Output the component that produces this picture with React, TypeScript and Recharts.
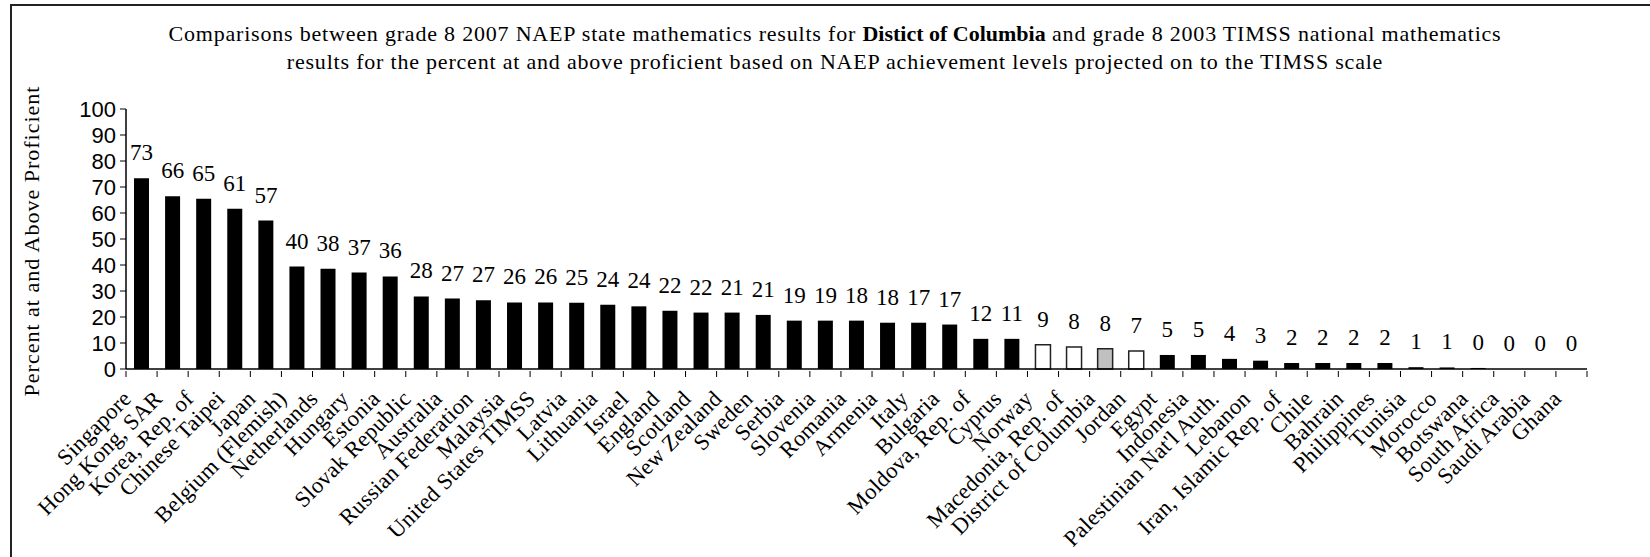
import { ComposedChart, Bar, Line, XAxis, YAxis, Cell, LabelList } from "recharts";

const categories = [
  "Singapore", "Hong Kong, SAR", "Korea, Rep. of", "Chinese Taipei", "Japan",
  "Belgium (Flemish)", "Netherlands", "Hungary", "Estonia", "Slovak Republic",
  "Australia", "Russian Federation", "Malaysia", "United States TIMSS", "Latvia",
  "Lithuania", "Israel", "England", "Scotland", "New Zealand", "Sweden", "Serbia",
  "Slovenia", "Romania", "Armenia", "Italy", "Bulgaria", "Moldova, Rep. of",
  "Cyprus", "Norway", "Macedonia, Rep. of", "District of Columbia", "Jordan",
  "Egypt", "Indonesia", "Palestinian Nat'l Auth.", "Lebanon",
  "Iran, Islamic Rep. of", "Chile", "Bahrain", "Philippines", "Tunisia",
  "Morocco", "Botswana", "South Africa", "Saudi Arabia", "Ghana",
];

// bar heights
const percentBars = [
  73.4, 66.4, 65.5, 61.6, 57.1, 39.4, 38.6, 37.1, 35.6, 27.9, 27.1, 26.4, 25.6,
  25.6, 25.5, 24.7, 24.1, 22.4, 21.7, 21.7, 20.8, 18.6, 18.6, 18.6, 17.8, 17.8,
  17.1, 11.6, 11.6, 9.3, 8.5, 7.8, 6.9, 5.4, 5.4, 3.9, 3.2, 2.3, 2.3, 2.3, 2.3,
  0.7, 0.6, 0.4, 0, 0, 0,
];

// printed labels above the bars
const percentLabels = [
  73, 66, 65, 61, 57, 40, 38, 37, 36, 28, 27, 27, 26, 26, 25, 24, 24, 22, 22,
  21, 21, 19, 19, 18, 18, 17, 17, 12, 11, 9, 8, 8, 7, 5, 5, 4, 3, 2, 2, 2, 2,
  1, 1, 0, 0, 0, 0,
];

const yTicks = [0, 10, 20, 30, 40, 50, 60, 70, 80, 90, 100];

// not significantly different from the focus jurisdiction
const notDifferent = ["Norway", "Macedonia, Rep. of", "Jordan"];
const focusState = "District of Columbia";

const data = categories.map((name, i) => ({
  name,
  value: percentBars[i],
  label: percentLabels[i],
}));

const SERIF = '"Liberation Serif", "Times New Roman", serif';
const SANS = '"Liberation Sans", Arial, sans-serif';

const W = 1650;
const H = 557;
const PLOT_LEFT = 126;
const PLOT_RIGHT = 1587;
const STEP = (PLOT_RIGHT - PLOT_LEFT) / categories.length;

function CategoryTick(props: any) {
  const { x, y, payload, index } = props;
  const tx = x - 9;
  const ty = y + 29;
  const last = index === categories.length - 1;
  return (
    <g>
      <line x1={x - STEP / 2} x2={x - STEP / 2} y1={y} y2={y + 6} stroke="#000" />
      {last && (
        <line x1={x + STEP / 2} x2={x + STEP / 2} y1={y} y2={y + 6} stroke="#000" />
      )}
      <text
        x={tx}
        y={ty}
        textAnchor="end"
        transform={`rotate(-45 ${tx} ${ty})`}
        fontFamily={SERIF}
        fontSize={22.5}
        letterSpacing={0.3}
        fill="#000"
      >
        {payload.value}
      </text>
    </g>
  );
}

function YTitle(props: any) {
  const { viewBox } = props;
  const cy = viewBox.y + viewBox.height / 2 + 2;
  return (
    <text
      x={31}
      y={cy}
      textAnchor="middle"
      dominantBaseline="central"
      transform={`rotate(-90 31 ${cy})`}
      fontFamily={SERIF}
      fontSize={22}
      letterSpacing={1}
      fill="#000"
    >
      Percent at and Above Proficient
    </text>
  );
}

export default function App() {
  return (
    <div
      style={{
        position: "fixed",
        left: 0,
        top: 0,
        width: W,
        height: H,
        overflow: "hidden",
        background: "#fff",
      }}
    >
      <div
        style={{
          position: "absolute",
          left: 10,
          top: 4,
          width: 1700,
          height: 600,
          border: "2px solid #222",
        }}
      />
      <div
        style={{
          position: "absolute",
          left: 10,
          top: 20,
          width: W,
          textAlign: "center",
          fontFamily: SERIF,
          fontSize: 22,
          letterSpacing: 0.8,
          lineHeight: "28px",
          color: "#000",
        }}
      >
        Comparisons between grade 8 2007 NAEP state mathematics results for{" "}
        <b style={{ letterSpacing: 0 }}>Distict of Columbia</b> and grade 8 2003
        TIMSS national mathematics
        <br />
        results for the percent at and above proficient based on NAEP
        achievement levels projected on to the TIMSS scale
      </div>
      <div style={{ position: "absolute", left: 0, top: 0 }}>
        <ComposedChart
          width={W}
          height={H}
          data={data}
          margin={{ top: 109, right: W - PLOT_RIGHT, bottom: 0, left: 0 }}
          barSize={15}
        >
          <XAxis
            dataKey="name"
            interval={0}
            height={188}
            tickSize={0}
            tickLine={false}
            axisLine={{ stroke: "#000", strokeWidth: 1.5 }}
            tick={<CategoryTick />}
          />
          <XAxis
            xAxisId="frame"
            dataKey="name"
            orientation="top"
            height={0}
            tick={false}
            tickLine={false}
            axisLine={{ stroke: "#666" }}
          />
          <YAxis
            width={PLOT_LEFT}
            domain={[0, 100]}
            ticks={yTicks}
            interval={0}
            tickSize={6}
            tickMargin={4}
            axisLine={{ stroke: "#000", strokeWidth: 1.5 }}
            tickLine={{ stroke: "#000" }}
            tick={{ fontFamily: SANS, fontSize: 22, fill: "#000" }}
            label={<YTitle />}
          />
          <YAxis
            yAxisId="frame"
            orientation="right"
            width={0}
            tick={false}
            tickLine={false}
            axisLine={{ stroke: "#666" }}
          />
          <Bar dataKey="value" isAnimationActive={false}>
            {data.map((d) => (
              <Cell
                key={d.name}
                fill={
                  d.name === focusState
                    ? "#c0c0c0"
                    : notDifferent.includes(d.name)
                    ? "#fff"
                    : "#000"
                }
                stroke={
                  d.name === focusState || notDifferent.includes(d.name)
                    ? "#222"
                    : "none"
                }
                strokeWidth={1.5}
              />
            ))}
          </Bar>
          {/* carries the value labels so that zero-height bars still get one */}
          <Line
            dataKey="value"
            stroke="none"
            dot={false}
            activeDot={false}
            legendType="none"
            isAnimationActive={false}
          >
            <LabelList
              dataKey="label"
              position="top"
              offset={18}
              fontFamily={SERIF}
              fontSize={23}
              fill="#000"
            />
          </Line>
        </ComposedChart>
      </div>
    </div>
  );
}
